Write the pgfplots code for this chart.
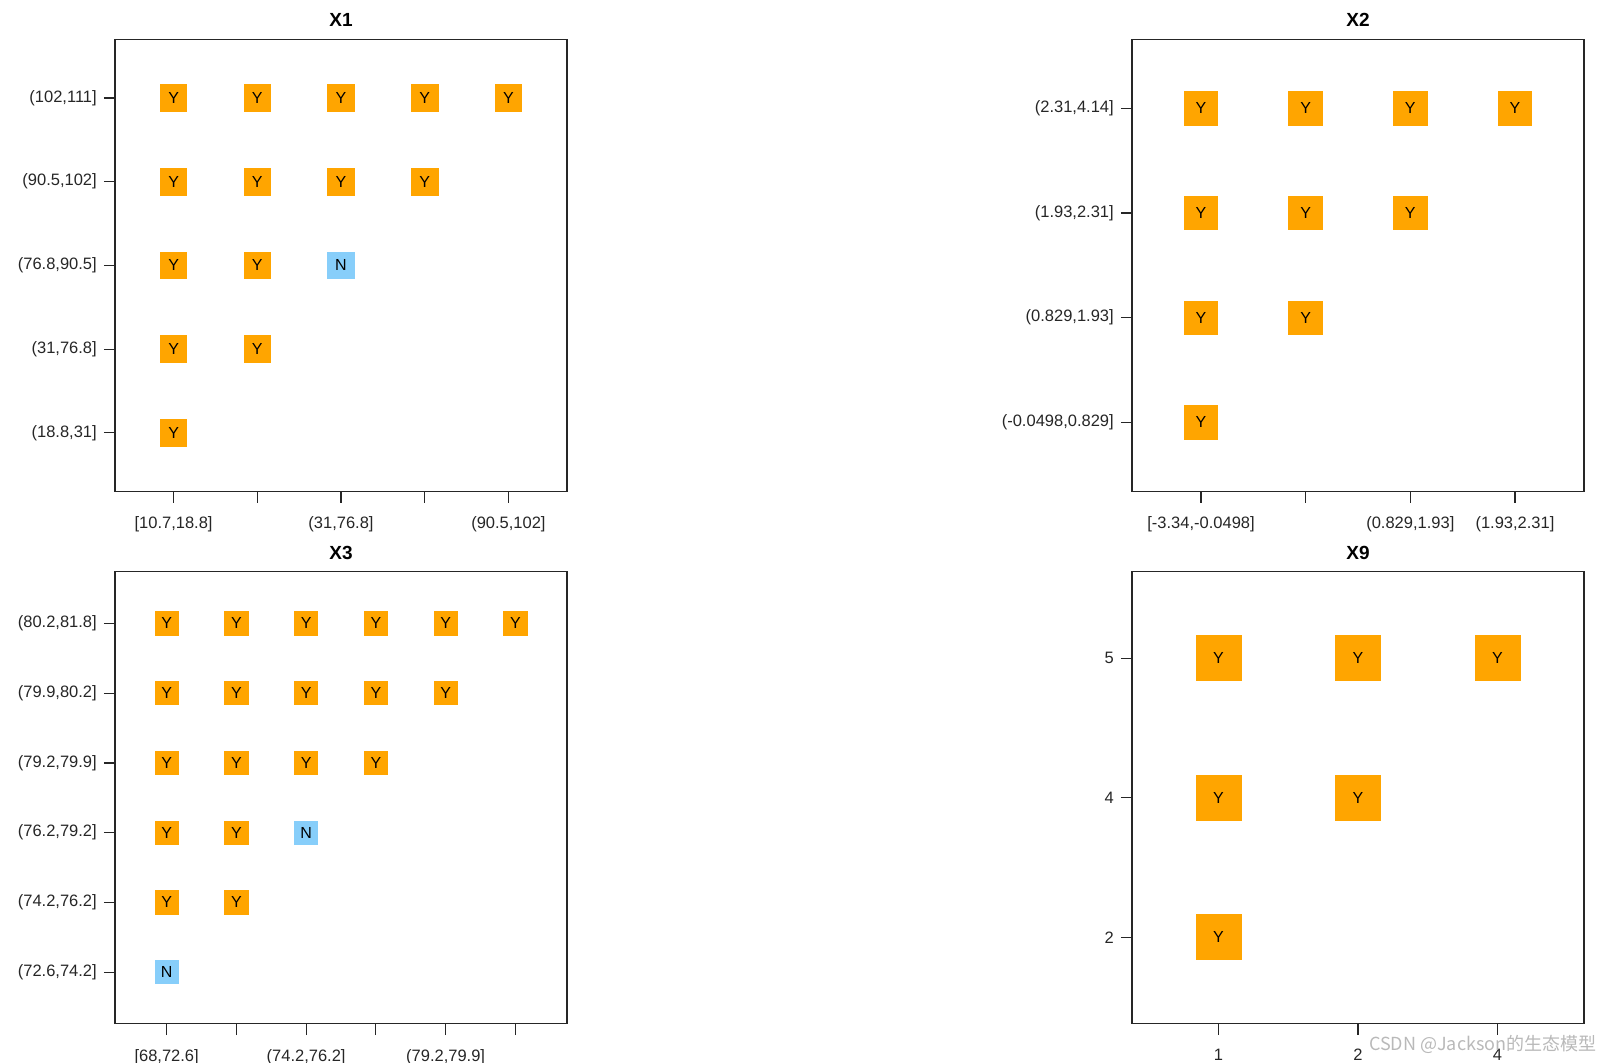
\documentclass[border=0pt]{standalone}
\usepackage{fontspec}
\setmainfont{Liberation Sans}
\newfontfamily\cjk{Noto Sans CJK SC}
\usepackage{pgfplots}
\pgfplotsset{compat=1.18}
\definecolor{rorange}{RGB}{255,165,0}
\definecolor{rsky}{RGB}{135,206,250}
\pgfplotsset{
  cell/.style={width=226pt, height=226pt, scale only axis,
    tick pos=left, tick align=outside, major tick length=5.6pt,
    axis line style={black!85, line width=0.6pt},
    major tick style={black!85, line width=0.6pt},
    ticklabel style={font=\fontsize{8.25}{9}\selectfont, text=black!85},
    xticklabel style={yshift=-3.6pt},
    title style={font=\bfseries\fontsize{9.5}{11}\selectfont, at={(0.5,1)}, anchor=base, yshift=0.3pt}},
  box/.style 2 args={only marks, mark=square*, mark size=#1,
    nodes near coords=#2,
    every node near coord/.append style={anchor=center, text=black, font=\fontsize{8}{9}\selectfont}},
  yes/.style={box={#1}{Y}, color=rorange},
  no/.style={box={#1}{N}, color=rsky},
}
\begin{document}
\begin{tikzpicture}
\path[use as bounding box] (0,0) rectangle (812pt,-531.5pt);

% X1
\begin{axis}[cell, at={(57.5pt,-19.7pt)}, anchor=north west, title={X1},
  xmin=0.3, xmax=5.7, ymin=0.3, ymax=5.7,
  xtick={1,...,5}, ytick={1,...,5},
  xticklabels={{[10.7,18.8]},{},{(31,76.8]},{},{(90.5,102]}},
  yticklabels={{(18.8,31]},{(31,76.8]},{(76.8,90.5]},{(90.5,102]},{(102,111]}}]
\addplot[yes=6.65pt] coordinates {(1,5) (2,5) (3,5) (4,5) (5,5)
  (1,4) (2,4) (3,4) (4,4) (1,3) (2,3) (1,2) (2,2) (1,1)};
\addplot[no=6.65pt] coordinates {(3,3)};
\end{axis}

% X2
\begin{axis}[cell, at={(566pt,-19.7pt)}, anchor=north west, title={X2},
  xmin=0.34, xmax=4.66, ymin=0.34, ymax=4.66,
  xtick={1,...,4}, ytick={1,...,4},
  xticklabels={{[-3.34,-0.0498]},{},{(0.829,1.93]},{(1.93,2.31]}},
  yticklabels={{(-0.0498,0.829]},{(0.829,1.93]},{(1.93,2.31]},{(2.31,4.14]}}]
\addplot[yes=8.4pt] coordinates {(1,4) (2,4) (3,4) (4,4)
  (1,3) (2,3) (3,3) (1,2) (2,2) (1,1)};
\end{axis}

% X3
\begin{axis}[cell, at={(57.5pt,-285.9pt)}, anchor=north west, title={X3},
  xmin=0.26, xmax=6.74, ymin=0.26, ymax=6.74,
  xtick={1,...,6}, ytick={1,...,6},
  xticklabels={{[68,72.6]},{},{(74.2,76.2]},{},{(79.2,79.9]},{}},
  yticklabels={{(72.6,74.2]},{(74.2,76.2]},{(76.2,79.2]},{(79.2,79.9]},{(79.9,80.2]},{(80.2,81.8]}}]
\addplot[yes=5.8pt] coordinates {(1,6) (2,6) (3,6) (4,6) (5,6) (6,6)
  (1,5) (2,5) (3,5) (4,5) (5,5) (1,4) (2,4) (3,4) (4,4)
  (1,3) (2,3) (1,2) (2,2)};
\addplot[no=5.8pt] coordinates {(3,3) (1,1)};
\end{axis}

% X9
\begin{axis}[cell, at={(566pt,-285.9pt)}, anchor=north west, title={X9},
  xmin=0.38, xmax=3.62, ymin=0.38, ymax=3.62,
  xtick={1,2,3}, ytick={1,2,3},
  xticklabels={1,2,4}, yticklabels={2,4,5}]
\addplot[yes=11.25pt] coordinates {(1,3) (2,3) (3,3) (1,2) (2,2) (1,1)};
\end{axis}

\node[anchor=base west, text=gray!55, font=\cjk\fontsize{9}{10}\selectfont] at (681pt,-525pt) {CSDN @Jackson的生态模型};
\end{tikzpicture}
\end{document}
